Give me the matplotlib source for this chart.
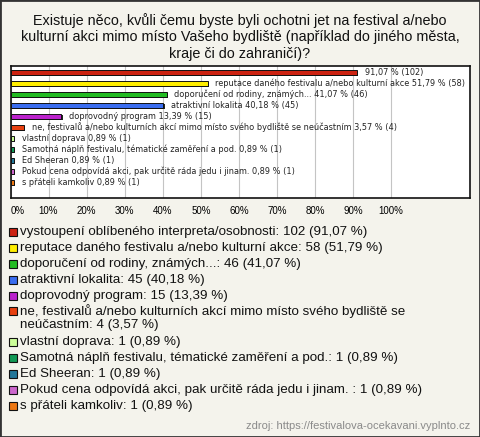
import matplotlib.pyplot as plt
from matplotlib.patches import Rectangle
from matplotlib import transforms

plt.rcParams["font.family"] = ["Liberation Sans", "DejaVu Sans"]

title = ("Existuje něco, kvůli čemu byste byli ochotni jet na festival a/nebo\n"
         "kulturní akci mimo místo Vašeho bydliště (například do jiného města,\n"
         "kraje či do zahraničí)?")

# answers as shown in the legend
categories = [
    "vystoupení oblíbeného interpreta/osobnosti",
    "reputace daného festivalu a/nebo kulturní akce",
    "doporučení od rodiny, známých...",
    "atraktivní lokalita",
    "doprovodný program",
    "ne, festivalů a/nebo kulturních akcí mimo místo svého bydliště se\nneúčastním",
    "vlastní doprava",
    "Samotná náplň festivalu, tématické zaměření a pod.",
    "Ed Sheeran",
    "Pokud cena odpovídá akci, pak určitě ráda jedu i jinam. ",
    "s přáteli kamkoliv",
]
# names written next to the bars (first one is left out in the original)
bar_names = [
    "",
    "reputace daného festivalu a/nebo kulturní akce",
    "doporučení od rodiny, známých...",
    "atraktivní lokalita",
    "doprovodný program",
    "ne, festivalů a/nebo kulturních akcí mimo místo svého bydliště se neúčastním",
    "vlastní doprava",
    "Samotná náplň festivalu, tématické zaměření a pod.",
    "Ed Sheeran",
    "Pokud cena odpovídá akci, pak určitě ráda jedu i jinam.",
    "s přáteli kamkoliv",
]
counts = [102, 58, 46, 45, 15, 4, 1, 1, 1, 1, 1]
percents = [91.07, 51.79, 41.07, 40.18, 13.39, 3.57, 0.89, 0.89, 0.89, 0.89, 0.89]
colors = ["#cc2211", "#ffee00", "#22bb22", "#3a6df0", "#bb22cc", "#e84010",
          "#ccff99", "#119955", "#227799", "#cc66cc", "#ee7711"]
xticks = list(range(0, 101, 10))


def fmt(v):
    return f"{v:.2f}".replace(".", ",")


W, H = 480, 437
fig = plt.figure(figsize=(4.8, 4.37), dpi=100)
fig.patch.set_facecolor("#f4f3ec")

fig.text(0.5, 1 - 37 / H, title, ha="center", va="center", fontsize=10.4,
         linespacing=1.2, color="#111111")

ax = fig.add_axes([10.5 / W, 1 - 198 / H, 459 / W, 132 / H])
ax.set_facecolor("white")

ypos = list(range(len(categories)))
shadow = transforms.offset_copy(ax.transData, fig=fig, x=1.2, y=-1.2, units="dots")
ax.barh(ypos, percents, height=0.46, color="#222222", transform=shadow, zorder=2)
ax.barh(ypos, percents, height=0.46, color=colors, edgecolor="#111111",
        linewidth=0.7, zorder=3)

for y, p, n, name in zip(ypos, percents, counts, bar_names):
    txt = f"{fmt(p)} % ({n})" if not name else f"{name} {fmt(p)} % ({n})"
    ax.annotate(txt, (p, y), xytext=(5.5, 0), textcoords="offset points",
                va="center", ha="left", fontsize=5.9, family="DejaVu Sans",
                color="#222222", zorder=4)

ax.set_xlim(0, 120.6)
ax.set_ylim(11.4, -0.57)
ax.set_yticks([])
ax.set_xticks(xticks)
ax.set_xticklabels([f"{t}%" for t in xticks], fontsize=7)
ax.get_xticklabels()[0].set_horizontalalignment("left")
ax.tick_params(axis="x", length=0, pad=6)
ax.grid(axis="x", color="#c4c4c4", linewidth=0.8, zorder=1)
for s in ax.spines.values():
    s.set_color("#111111")
    s.set_linewidth(1.2)

# legend drawn by hand below the chart
y = 232
for name, n, p, c in zip(categories, counts, percents, colors):
    label = f"{name}: {n} ({fmt(p)} %)"
    fig.add_artist(Rectangle((9 / W, 1 - (y + 4) / H), 8 / W, 8 / H,
                             transform=fig.transFigure, facecolor=c,
                             edgecolor="#111111", linewidth=0.8))
    fig.text(20 / W, 1 - y / H, label, ha="left", va="center", fontsize=9.6,
             linespacing=1.1, color="#111111")
    lines = label.count("\n")
    if lines:
        fig.texts[-1].set_va("top")
        fig.texts[-1].set_y(1 - (y - 7.5) / H)
    y += 15.9 + 15 * lines

fig.text(470 / W, 1 - 426 / H, "zdroj: https://festivalova-ocekavani.vyplnto.cz",
         ha="right", va="center", fontsize=8, color="#8a8a8a")

fig.add_artist(Rectangle((0, 0), 1, 1, transform=fig.transFigure, fill=False,
                         edgecolor="#333333", linewidth=2))

fig.savefig("out.png", dpi=100, facecolor=fig.get_facecolor())
